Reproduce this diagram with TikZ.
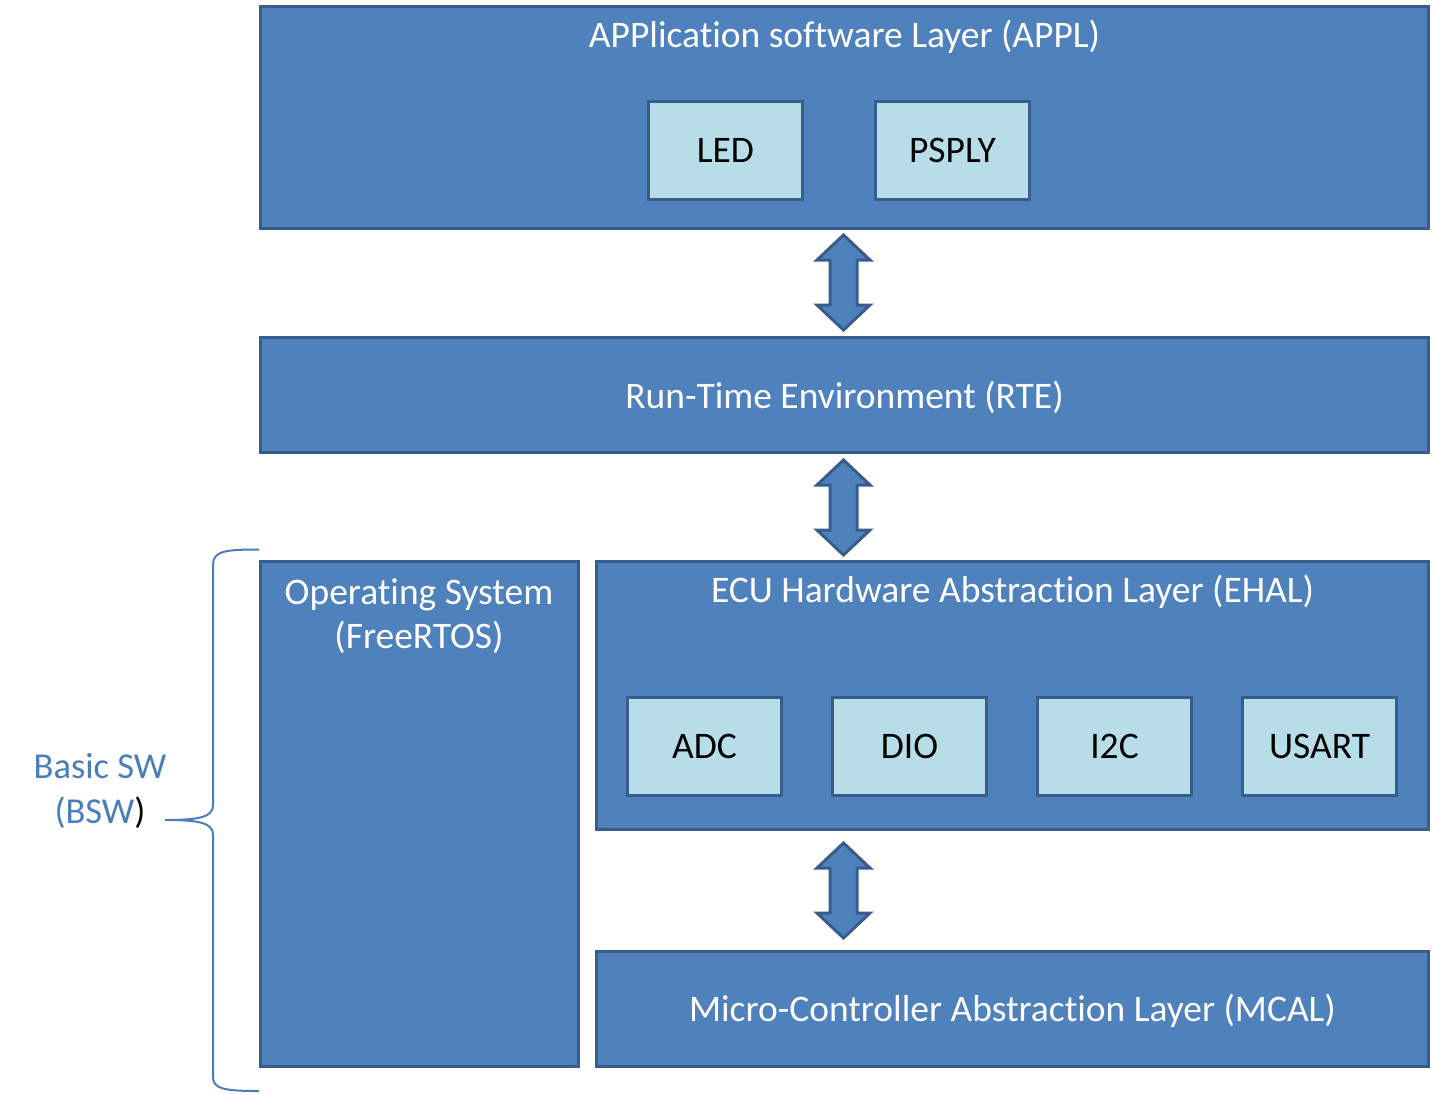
\documentclass[tikz,border=0pt]{standalone}
\usepackage{fontspec}
\setmainfont{Carlito}[Ligatures=NoCommon]
\definecolor{boxfill}{HTML}{4F81BD}
\definecolor{boxline}{HTML}{385D8A}
\definecolor{subfill}{HTML}{B7DEE8}
\definecolor{bracecol}{HTML}{4A7EBB}
\tikzset{
  layer/.style={draw=boxline, fill=boxfill, line width=3pt, rectangle, inner sep=0pt},
  sub/.style={draw=boxline, fill=subfill, line width=3pt, rectangle, inner sep=0pt,
     minimum width=154pt, minimum height=98pt, font=\fontsize{37.5}{44}\selectfont, text=black},
  ltext/.style={font=\fontsize{37.5}{44}\selectfont, text=white, align=center, inner sep=0pt},
  dblarrow/.pic={
    \filldraw[draw=boxline, fill=boxfill, line width=3pt, line join=miter]
      (0,-47.5) -- (26.5,-22.5) -- (13.5,-22.5) -- (13.5,22.5) -- (26.5,22.5)
      -- (0,47.5) -- (-26.5,22.5) -- (-13.5,22.5) -- (-13.5,-22.5) -- (-26.5,-22.5) -- cycle;
  }
}
\begin{document}
\begin{tikzpicture}[x=1pt,y=-1pt]
\useasboundingbox (0,0) rectangle (1432,1093);
% layers
\node[layer, minimum width=1168pt, minimum height=222pt] (appl) at (844.5,117.5) {};
\node[ltext, anchor=center] (applt) at (844.5,37) {APPlication software Layer (APPL)};
\node[sub] (led) at (725.5,150) {LED};
\node[sub] (psply) at (952.5,150) {PSPLY};

\node[layer, minimum width=1168pt, minimum height=115pt] (rte) at (844.5,395) {};
\node[ltext] (rtet) at (844.5,397) {Run-Time Environment (RTE)};

\node[layer, minimum width=318pt, minimum height=505pt] (os) at (419,814) {};
\node[ltext, anchor=north] (ost) at (419,578) {Operating System\\(FreeRTOS)};

\node[layer, minimum width=832pt, minimum height=268pt] (ehal) at (1012.5,695.5) {};
\node[ltext] (ehalt) at (1012.5,592) {ECU Hardware Abstraction Layer (EHAL)};
\node[sub] (adc) at (704.5,746.5) {ADC};
\node[sub] (dio) at (909.5,746.5) {DIO};
\node[sub] (i2c) at (1114.5,746.5) {I2C};
\node[sub] (usart) at (1319.5,746.5) {USART};

\node[layer, minimum width=832pt, minimum height=115pt] (mcal) at (1012.5,1009) {};
\node[ltext] (mcalt) at (1012.5,1011) {Micro-Controller Abstraction Layer (MCAL)};

% double arrows
\pic at (843.5,282.5) {dblarrow};
\pic at (843.5,507.5) {dblarrow};
\pic at (843.5,890.5) {dblarrow};

% brace
\coordinate (bt) at (259,549.5);
\coordinate (bb) at (259,1091);
\coordinate (tip) at (165,820);
\draw[bracecol, line width=2pt]
  (bt) .. controls (225,549.5) and (213,551) .. (213,565)
  -- (213,805) .. controls (213,817) and (200,820) .. (tip)
  .. controls (200,820) and (213,823) .. (213,835)
  -- (213,1077) .. controls (213,1089) and (225,1091) .. (bb);
\node[font=\fontsize{36.5}{45}\selectfont, text=bracecol, align=center, inner sep=0pt] (bsw) at (100,791)
  {Basic SW\\(BSW\textcolor{black}{)}};
\end{tikzpicture}
\end{document}
